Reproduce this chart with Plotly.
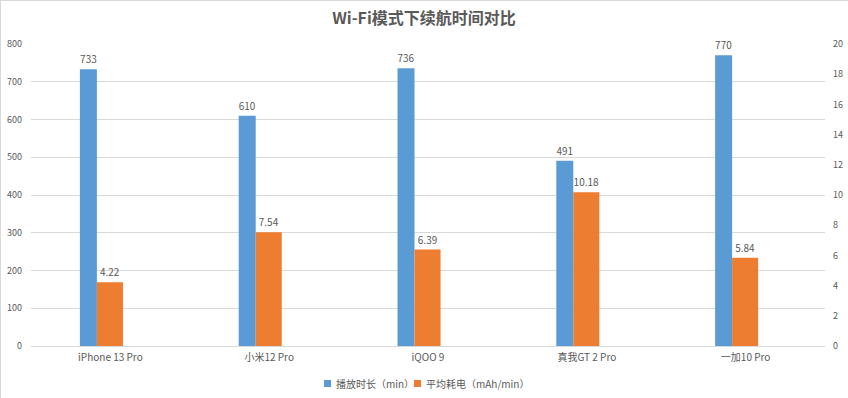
import plotly.graph_objects as go

categories = ["iPhone 13 Pro", "小米12 Pro", "iQOO 9", "真我GT 2 Pro", "一加10 Pro"]
play_minutes = [733, 610, 736, 491, 770]
power_per_min = [4.22, 7.54, 6.39, 10.18, 5.84]
label_play = ["733", "610", "736", "491", "770"]
label_power = ["4.22", "7.54", "6.39", "10.18", "5.84"]
series_names = ["播放时长（min）", "平均耗电（mAh/min）"]

BLUE = "#5b9bd5"
ORANGE = "#ed7d31"
TXT = "#595959"
GRID = "#d9d9d9"
FONT = "Noto Sans CJK SC, Microsoft YaHei, sans-serif"

W, H = 848, 398
L, R, T, B = 31, 23, 44, 52
PW, PH = W - L - R, H - T - B


def px(x):
    return (x - L) / PW


def py(y):
    return (H - B - y) / PH


fig = go.Figure()
fig.add_trace(go.Bar(
    x=categories, y=play_minutes, name=series_names[0],
    marker=dict(color=BLUE, line=dict(width=0)),
    width=0.107, offset=-0.192,
    text=label_play, textposition="outside",
    textfont=dict(size=10, color=TXT, family=FONT),
    cliponaxis=False, yaxis="y", showlegend=False,
))
fig.add_trace(go.Bar(
    x=categories, y=power_per_min, name=series_names[1],
    marker=dict(color=ORANGE, line=dict(width=0)),
    width=0.164, offset=-0.085,
    text=label_power, textposition="outside",
    textfont=dict(size=10, color=TXT, family=FONT),
    cliponaxis=False, yaxis="y2", showlegend=False,
))

# legend drawn as squares + text
legend_items = [(324, 334, BLUE, series_names[0]), (414, 424, ORANGE, series_names[1])]
shapes = [
    dict(type="line", xref="paper", yref="paper", x0=px(0.5), x1=px(0.5), y0=py(398), y1=py(0),
         line=dict(color=GRID, width=1)),
    dict(type="line", xref="paper", yref="paper", x0=px(0), x1=px(848), y0=py(0.5), y1=py(0.5),
         line=dict(color=GRID, width=1)),
]
annotations = []
for sx, tx, col, name in legend_items:
    shapes.append(dict(type="rect", xref="paper", yref="paper",
                       x0=px(sx), x1=px(sx + 7), y0=py(387), y1=py(380),
                       fillcolor=col, line=dict(width=0)))
    annotations.append(dict(text=name, xref="paper", yref="paper", x=px(tx), y=py(383.5),
                            xanchor="left", yanchor="middle", showarrow=False,
                            font=dict(size=10, color=TXT, family=FONT)))

fig.update_layout(
    width=W, height=H,
    margin=dict(l=L, r=R, t=T, b=B, autoexpand=False),
    paper_bgcolor="white", plot_bgcolor="white",
    font=dict(family=FONT, color=TXT, size=10),
    title=dict(text="<b>Wi-Fi模式下续航时间对比</b>", x=0.5, xanchor="center",
               y=1 - 18 / H, yanchor="middle",
               font=dict(size=16, color=TXT, family=FONT)),
    barmode="overlay",
    showlegend=False,
    hovermode=False,
    xaxis=dict(showgrid=False, showline=False, ticks="", ticklabelstandoff=4,
               tickfont=dict(size=10, color=TXT, family=FONT),
               range=[-0.5, 4.5], automargin=False),
    yaxis=dict(range=[0, 800], dtick=100, showgrid=True, gridcolor=GRID, gridwidth=1,
               zeroline=True, zerolinecolor=GRID, zerolinewidth=1,
               showline=False, ticks="", ticklabelstandoff=8,
               tickfont=dict(size=9, color=TXT, family=FONT), automargin=False),
    yaxis2=dict(range=[0, 20], dtick=2, overlaying="y", side="right",
                showgrid=False, zeroline=False, showline=False, ticks="",
                ticklabelstandoff=7,
                tickfont=dict(size=9, color=TXT, family=FONT), automargin=False),
    shapes=shapes,
    annotations=annotations,
)

fig.write_html("out.html", config={"displayModeBar": False},
               post_script="document.body.style.margin='0';")
